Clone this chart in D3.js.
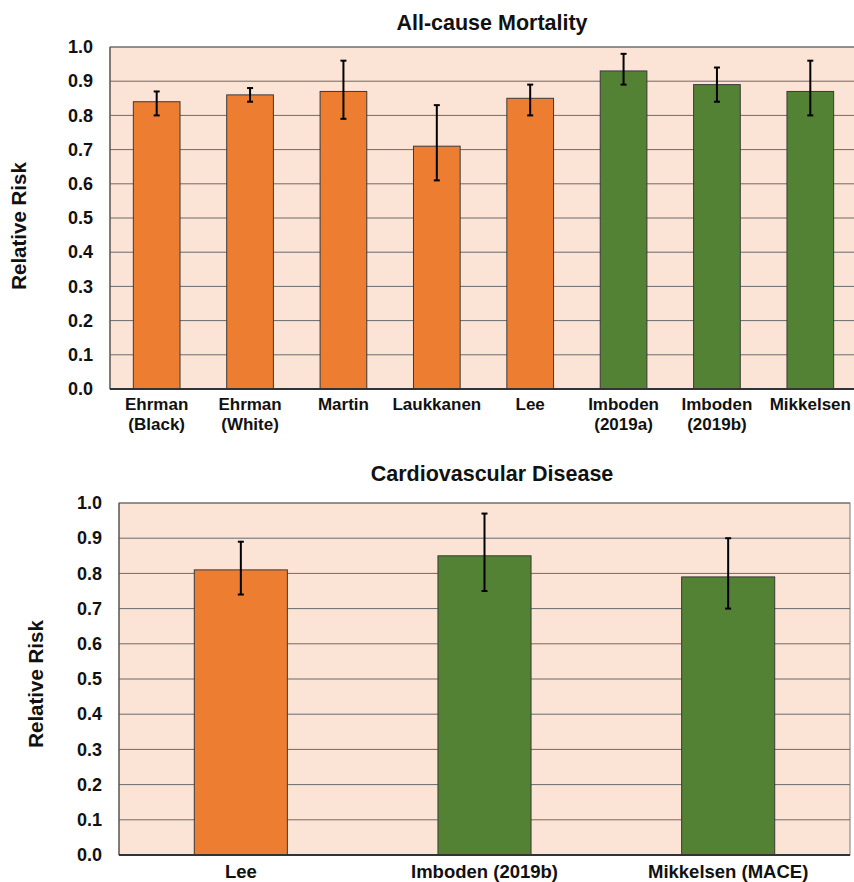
<!DOCTYPE html>
<html>
<head>
<meta charset="utf-8">
<script src="https://cdn.jsdelivr.net/npm/d3@7"></script>
<style>
  body { margin: 0; background: #fff; }
  text { font-family: "Liberation Sans", Arial, sans-serif; font-weight: bold; fill: #111; }
</style>
</head>
<body>
<svg id="chart" width="854" height="882"></svg>
<script>
// all-cause mortality
let mortNames = [["Ehrman", "(Black)"], ["Ehrman", "(White)"], ["Martin"], ["Laukkanen"], ["Lee"],
                 ["Imboden", "(2019a)"], ["Imboden", "(2019b)"], ["Mikkelsen"]];
let mortRR = [0.84, 0.86, 0.87, 0.71, 0.85, 0.93, 0.89, 0.87];
let mortLow = [0.80, 0.84, 0.79, 0.61, 0.80, 0.89, 0.84, 0.80];
let mortHigh = [0.87, 0.88, 0.96, 0.83, 0.89, 0.98, 0.94, 0.96];
let mortGroup = ["o", "o", "o", "o", "o", "g", "g", "g"];

// cardiovascular disease
let cvdNames = [["Lee"], ["Imboden (2019b)"], ["Mikkelsen (MACE)"]];
let cvdRR = [0.81, 0.85, 0.79];
let cvdLow = [0.74, 0.75, 0.70];
let cvdHigh = [0.89, 0.97, 0.90];
let cvdGroup = ["o", "g", "g"];

let yTicks = [0, 0.1, 0.2, 0.3, 0.4, 0.5, 0.6, 0.7, 0.8, 0.9, 1.0];

let colors = { o: "#ED7D31", g: "#548235" };
let svg = d3.select("#chart");

function drawChart(opt) {
    let g = svg.append("g");
    let n = opt.names.length;

    let x = d3.scaleBand()
        .domain(d3.range(n))
        .range([opt.left, opt.right])
        .paddingInner(opt.pad)
        .paddingOuter(opt.pad / 2);

    let y = d3.scaleLinear().domain([0, 1]).range([opt.bottom, opt.top]);

    g.append("rect")
        .attr("x", opt.left).attr("y", opt.top)
        .attr("width", opt.right - opt.left).attr("height", opt.bottom - opt.top)
        .attr("fill", "#FBE3D6")
        .attr("stroke", "#7a7a7a").attr("stroke-width", 1);

    g.selectAll(".grid")
        .data(yTicks.slice(1))
        .enter().append("line")
        .attr("x1", opt.left).attr("x2", opt.right)
        .attr("y1", d => y(d)).attr("y2", d => y(d))
        .attr("stroke", "#6b6b6b").attr("stroke-width", 1);

    g.selectAll(".bar")
        .data(opt.values)
        .enter().append("rect")
        .attr("x", (d, i) => x(i))
        .attr("y", d => y(d))
        .attr("width", x.bandwidth())
        .attr("height", d => y(0) - y(d))
        .attr("fill", (d, i) => colors[opt.group[i]])
        .attr("stroke", "#3a3a3a").attr("stroke-width", 1);

    // error bars
    let cx = i => x(i) + x.bandwidth() / 2;
    let err = g.selectAll(".err").data(opt.values).enter().append("g");
    err.append("line")
        .attr("x1", (d, i) => cx(i)).attr("x2", (d, i) => cx(i))
        .attr("y1", (d, i) => y(opt.low[i])).attr("y2", (d, i) => y(opt.high[i]))
        .attr("stroke", "#000").attr("stroke-width", 2);
    err.append("line")
        .attr("x1", (d, i) => cx(i) - 3).attr("x2", (d, i) => cx(i) + 3)
        .attr("y1", (d, i) => y(opt.high[i])).attr("y2", (d, i) => y(opt.high[i]))
        .attr("stroke", "#000").attr("stroke-width", 2);
    err.append("line")
        .attr("x1", (d, i) => cx(i) - 3).attr("x2", (d, i) => cx(i) + 3)
        .attr("y1", (d, i) => y(opt.low[i])).attr("y2", (d, i) => y(opt.low[i]))
        .attr("stroke", "#000").attr("stroke-width", 2);

    // left and bottom axis lines
    g.append("line")
        .attr("x1", opt.left).attr("x2", opt.left)
        .attr("y1", opt.top).attr("y2", opt.bottom)
        .attr("stroke", "#555").attr("stroke-width", 1.2);
    g.append("line")
        .attr("x1", opt.left).attr("x2", opt.right)
        .attr("y1", opt.bottom).attr("y2", opt.bottom)
        .attr("stroke", "#333").attr("stroke-width", 2);

    let yAxis = d3.axisLeft(y).tickValues(yTicks).tickFormat(d3.format(".1f")).tickSize(0).tickPadding(opt.tickPad);
    let ya = g.append("g").attr("transform", "translate(" + opt.left + ",0)").call(yAxis);
    ya.select(".domain").remove();
    ya.selectAll("text").style("font-size", "18px").attr("fill", "#111")
        .style("font-family", "'Liberation Sans', Arial, sans-serif").style("font-weight", "bold");

    let lab = g.selectAll(".cat").data(opt.names).enter().append("text")
        .attr("text-anchor", "middle")
        .style("font-size", opt.labSize + "px");
    lab.each(function (d, i) {
        let t = d3.select(this);
        d.forEach((line, j) => {
            t.append("tspan")
                .attr("x", cx(i))
                .attr("y", opt.bottom + opt.labOff + j * 20)
                .text(line);
        });
    });

    g.append("text")
        .attr("x", opt.titleX).attr("y", opt.titleY)
        .attr("text-anchor", "middle")
        .style("font-size", "21.5px")
        .text(opt.title);

    g.append("text")
        .attr("transform", "translate(" + opt.ytX + "," + opt.ytY + ") rotate(-90)")
        .attr("text-anchor", "middle")
        .style("font-size", "20.5px")
        .text("Relative Risk");
}

drawChart({
    names: mortNames, values: mortRR, low: mortLow, high: mortHigh, group: mortGroup,
    left: 110, right: 857, top: 47, bottom: 389, pad: 0.5, labOff: 21, labSize: 17, tickPad: 17,
    title: "All-cause Mortality", titleX: 492, titleY: 30, ytX: 26, ytY: 226
});

drawChart({
    names: cvdNames, values: cvdRR, low: cvdLow, high: cvdHigh, group: cvdGroup,
    left: 119, right: 850, top: 503, bottom: 855, pad: 0.618, labOff: 23, labSize: 18.5, tickPad: 17,
    title: "Cardiovascular Disease", titleX: 492, titleY: 481, ytX: 43, ytY: 684
});
</script>
</body>
</html>
